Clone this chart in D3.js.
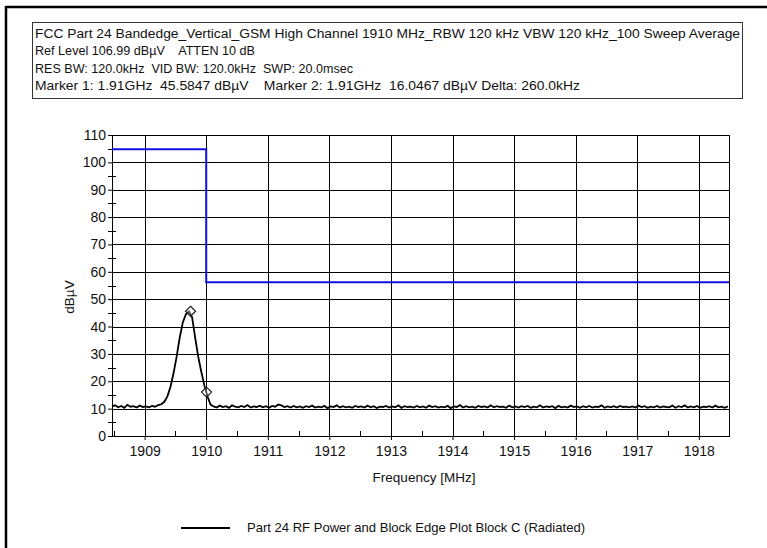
<!DOCTYPE html>
<html><head><meta charset="utf-8">
<script src="https://cdn.jsdelivr.net/npm/d3@7"></script>
<style>body{margin:0;background:#fff}svg{display:block}text{font-family:"Liberation Sans",Arial,sans-serif;fill:#111;white-space:pre}</style>
</head><body><svg id="c" width="767" height="548"></svg>
<script>
const headerLines = [
  "FCC Part 24 Bandedge_Vertical_GSM High Channel 1910 MHz_RBW 120 kHz VBW 120 kHz_100 Sweep Average",
  "Ref Level 106.99 dB\u00b5V    ATTEN 10 dB",
  "RES BW: 120.0kHz  VID BW: 120.0kHz  SWP: 20.0msec",
  "Marker 1: 1.91GHz  45.5847 dB\u00b5V    Marker 2: 1.91GHz  16.0467 dB\u00b5V Delta: 260.0kHz"
];
const xTicks = [1909,1910,1911,1912,1913,1914,1915,1916,1917,1918];
const yTicks = [0,10,20,30,40,50,60,70,80,90,100,110];
const traceStart = 1908.47, traceStep = 0.05;
const traceValues = [
 10.8,11.2,10.5,11.0,10.3,11.4,10.7,10.9,10.4,11.1,10.6,10.8,10.5,11.0,10.7,11.3,11.6,
 12.5,14.5,18.0,23.0,29.0,36.0,41.5,44.5,45.5,43.5,36.0,29.0,23.5,18.5,14.5,11.5,
 10.8,10.4,11.1,10.6,10.9,10.3,11.2,10.7,10.5,11.0,10.6,11.3,10.4,10.8,10.6,11.1,10.5,
 10.9,10.3,11.0,10.7,11.5,11.2,10.6,10.9,10.4,11.0,10.5,10.8,10.3,10.9,10.6,11.1,10.4,
 10.7,10.5,11.0,10.2,10.8,10.6,11.2,10.4,10.9,10.5,10.7,10.3,11.0,10.6,10.8,10.4,11.1,
 10.5,10.9,10.2,10.7,10.6,11.0,10.4,10.8,10.5,11.2,10.3,10.9,10.6,10.7,10.4,11.0,10.5,
 10.8,10.3,11.1,10.6,10.9,10.4,10.7,10.5,11.0,10.2,10.8,10.6,11.3,10.4,10.9,10.5,10.7,
 10.3,11.0,10.6,10.8,10.4,11.2,10.5,10.9,10.6,10.7,10.3,11.1,10.5,10.8,10.4,10.9,10.6,
 11.0,10.3,10.7,10.5,11.2,10.4,10.8,10.6,10.9,10.2,11.0,10.5,10.7,10.4,11.1,10.6,10.8,
 10.3,10.9,10.5,11.0,10.4,10.7,10.6,11.2,10.3,10.8,10.5,10.9,10.4,11.0,10.6,10.7,10.5,
 10.8,10.4,11.1,10.6,10.9,10.3,10.7,10.5,11.0,10.4,10.8,10.6,10.5,11.1,10.3,10.9,10.6,
 11.2,10.4,10.8,10.5,11.0,10.3,10.7,10.6,10.9,10.4,11.1,10.5,10.7,10.3,10.8
];
const limitFreq = [1908.47, 1910.0, 1910.0, 1918.49];
const limitVal  = [104.8, 104.8, 56.2, 56.2];
const markerFreq = [1909.745, 1910.005];
const markerVal  = [45.58, 16.05];
const legendLabel = "Part 24 RF Power and Block Edge Plot Block C (Radiated)";

const svg = d3.select("#c");
// outer frame
svg.append("line").attr("x1",6).attr("x2",767).attr("y1",7).attr("y2",7).attr("stroke","#000").attr("stroke-width",2.5);
svg.append("line").attr("x1",6).attr("x2",6).attr("y1",6).attr("y2",548).attr("stroke","#000").attr("stroke-width",2.5);
// header box
svg.append("rect").attr("x",32.5).attr("y",22.5).attr("width",710).attr("height",76).attr("fill","#fff").attr("stroke","#333");
const hdrEnds = [740, 255, 353, 580];
headerLines.forEach((t,i)=>{
  svg.append("text").attr("x",35).attr("y",38+i*17.3).attr("font-size",12)
    .attr("textLength",hdrEnds[i]-35).attr("lengthAdjust","spacingAndGlyphs").text(t);
});

const L=112, R=729, T=135, B=436;
const x = d3.scaleLinear().domain([1908.47,1918.49]).range([L,R]);
const y = d3.scaleLinear().domain([0,110]).range([B,T]);
const g = svg.append("g");
// grid
g.selectAll(".gx").data(xTicks).join("line").attr("x1",d=>Math.round(x(d))+.5).attr("x2",d=>Math.round(x(d))+.5)
 .attr("y1",T).attr("y2",B).attr("stroke","#000");
g.selectAll(".gy").data(yTicks).join("line").attr("y1",d=>Math.round(y(d))+.5).attr("y2",d=>Math.round(y(d))+.5)
 .attr("x1",L).attr("x2",R).attr("stroke","#000");
g.append("rect").attr("x",L+.5).attr("y",T+.5).attr("width",R-L).attr("height",B-T).attr("fill","none").attr("stroke","#000");
// axes
const xAxis = d3.axisBottom(x).tickValues(xTicks).tickFormat(d3.format("d")).tickSize(4).tickPadding(6);
const ax = svg.append("g").attr("transform",`translate(0,${B})`).call(xAxis);
const yAxis = d3.axisLeft(y).tickValues(yTicks).tickSize(4).tickPadding(2);
const ay = svg.append("g").attr("transform",`translate(${L},0)`).call(yAxis);
[ax,ay].forEach(a=>{a.select(".domain").remove();a.selectAll("line").attr("stroke","#000");a.selectAll("text").attr("font-size",14).attr("fill","#111").attr("font-family","Liberation Sans, Arial, sans-serif");});
// minor ticks
const xMinor = d3.range(1908.5,1918.6,1);
svg.append("g").selectAll("line").data(xMinor.filter(v=>v>1908.47&&v<1918.49)).join("line")
 .attr("x1",d=>Math.round(x(d))+.5).attr("x2",d=>Math.round(x(d))+.5).attr("y1",B).attr("y2",B-5).attr("stroke","#000");
const yMinor = d3.range(5,110,10);
svg.append("g").selectAll("line").data(yMinor).join("line")
 .attr("y1",d=>Math.round(y(d))+.5).attr("y2",d=>Math.round(y(d))+.5).attr("x1",L-4).attr("x2",L+4).attr("stroke","#000");
// labels
svg.append("text").attr("x",424).attr("y",482).attr("text-anchor","middle").attr("font-size",13.5).text("Frequency [MHz]");
svg.append("text").attr("transform","translate(74,297) rotate(-90)").attr("text-anchor","middle").attr("font-size",13.5).text("dB\u00b5V");
// limit line
const lim = limitFreq.map((f,i)=>[f,limitVal[i]]);
svg.append("path").datum(lim).attr("d",d3.line().x(d=>x(d[0])).y(d=>y(d[1]))).attr("fill","none").attr("stroke","#1010e0").attr("stroke-width",2);
// trace
const tr = traceValues.map((v,i)=>[traceStart+traceStep*i,v]).filter(d=>d[0]<=1918.49);
svg.append("path").datum(tr).attr("d",d3.line().x(d=>x(d[0])).y(d=>y(d[1]))).attr("fill","none").attr("stroke","#000").attr("stroke-width",1.8);
// markers
svg.append("g").selectAll("path").data(markerFreq.map((f,i)=>[f,markerVal[i]])).join("path")
 .attr("transform",d=>`translate(${x(d[0])},${y(d[1])})`).attr("d",d3.symbol(d3.symbolDiamond2,64))
 .attr("fill","#fff").attr("fill-opacity",0.3).attr("stroke","#222").attr("stroke-width",1.2);
// legend
svg.append("line").attr("x1",181).attr("x2",230).attr("y1",528).attr("y2",528).attr("stroke","#000").attr("stroke-width",2);
svg.append("text").attr("x",247).attr("y",532).attr("font-size",13).attr("textLength",338).attr("lengthAdjust","spacingAndGlyphs").text(legendLabel);
</script></body></html>
